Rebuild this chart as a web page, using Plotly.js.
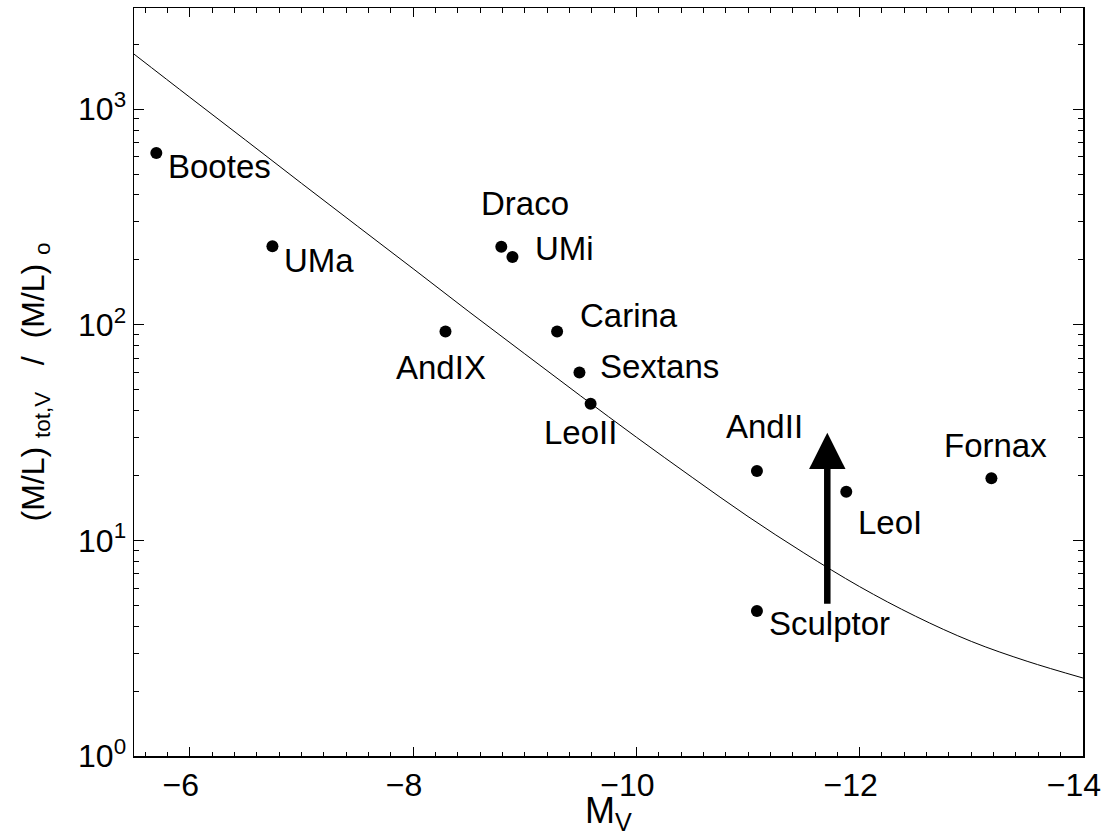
<!DOCTYPE html>
<html>
<head>
<meta charset="utf-8">
<script src="https://cdn.plot.ly/plotly-3.0.1.min.js"></script>
<style>
  html, body { margin: 0; padding: 0; background: #fff; }
  #chart { width: 1104px; height: 836px; }
</style>
</head>
<body>
<div id="chart"></div>
<script>
// Dwarf spheroidal galaxies: absolute V magnitude and total mass-to-light ratio
const galaxies = ['Bootes', 'UMa', 'Draco', 'UMi', 'AndIX', 'Carina', 'Sextans', 'LeoII', 'AndII', 'LeoI', 'Sculptor', 'Fornax'];
const absMagV  = [-5.70, -6.74, -8.79, -8.89, -8.29, -9.29, -9.49, -9.59, -11.08, -11.88, -11.08, -13.18];
const massToLight = [626, 231, 230, 206, 93, 93, 60, 43, 21, 16.8, 4.7, 19.4];

// Model curve: constant dark-matter mass plus stellar M/L
const curveMv = [-5.5, -6, -6.5, -7, -7.5, -8, -8.5, -9, -9.5, -10, -10.5, -11, -11.5, -12, -12.5, -13, -13.5, -14];
const curveML = [1800, 1135, 718, 453, 287, 182, 115, 73.3, 46.8, 30.1, 19.6, 12.9, 8.75, 6.1, 4.45, 3.4, 2.75, 2.3];

// Arrow for Sculptor
const arrowMv = -11.71;
const arrowTail = 5.0;
const arrowTip = 31.6;

// Axis ticks
const xTickVals = [-6, -8, -10, -12, -14];
const yTickVals = [1, 10, 100, 1000];
const yTickText = ['10<sup>0</sup>', '10<sup>1</sup>', '10<sup>2</sup>', '10<sup>3</sup>'];

// Label placement around each point (pixels)
const labelPlacement = {
  Bootes:   {xanchor: 'left',   dx: 10,  dy: -14},
  UMa:      {xanchor: 'left',   dx: 10,  dy: -14},
  Draco:    {xanchor: 'center', dx: 24,  dy: 43},
  UMi:      {xanchor: 'left',   dx: 21,  dy: 9},
  AndIX:    {xanchor: 'center', dx: -4,  dy: -36},
  Carina:   {xanchor: 'left',   dx: 21,  dy: 16},
  Sextans:  {xanchor: 'left',   dx: 19,  dy: 6},
  LeoII:    {xanchor: 'center', dx: -10, dy: -29},
  AndII:    {xanchor: 'center', dx: 8,   dy: 44},
  LeoI:     {xanchor: 'left',   dx: 10,  dy: -31},
  Sculptor: {xanchor: 'left',   dx: 10,  dy: -12},
  Fornax:   {xanchor: 'center', dx: 4,   dy: 33}
};

const FONT = '"Liberation Sans", Arial, Helvetica, sans-serif';

const minorY = [];
for (let e = 0; e <= 3; e++) {
  for (let m = 2; m <= 9; m++) minorY.push(m * Math.pow(10, e));
}

const traces = [
  {
    x: curveMv, y: curveML,
    type: 'scatter', mode: 'lines',
    line: {color: '#000', width: 1, shape: 'spline', smoothing: 1},
    hoverinfo: 'skip'
  },
  {
    x: absMagV, y: massToLight, text: galaxies,
    type: 'scatter', mode: 'markers',
    marker: {color: '#000', size: 12},
    hoverinfo: 'text'
  }
];

const annotations = galaxies.map((name, i) => {
  const p = labelPlacement[name];
  return {
    x: absMagV[i], y: Math.log10(massToLight[i]),
    xref: 'x', yref: 'y',
    text: name, showarrow: false,
    xanchor: p.xanchor, yanchor: 'middle',
    xshift: p.dx, yshift: p.dy,
    font: {family: FONT, size: 33, color: '#000'}
  };
});

annotations.push({
  x: arrowMv, y: Math.log10(arrowTip),
  ax: arrowMv, ay: Math.log10(arrowTail),
  xref: 'x', yref: 'y', axref: 'x', ayref: 'y',
  text: '', showarrow: true,
  arrowhead: 2, arrowsize: 1.12, arrowwidth: 6.5, arrowcolor: '#000',
  standoff: 0, startstandoff: 0
});

const layout = {
  width: 1104, height: 836,
  margin: {l: 134, r: 21, t: 8, b: 80},
  paper_bgcolor: '#fff', plot_bgcolor: '#fff',
  showlegend: false,
  font: {family: FONT, size: 32, color: '#000'},
  xaxis: {
    range: [-5.5, -14.0005],
    tickmode: 'array', tickvals: xTickVals,
    ticks: 'inside', ticklen: 9, tickwidth: 1, tickcolor: '#000',
    ticklabelshift: 9, ticklabeloverflow: 'allow',
    showline: true, linecolor: '#000', linewidth: 1.5, mirror: 'allticks',
    showgrid: false, zeroline: false,
    tickfont: {family: FONT, size: 32, color: '#000'},
    minor: {dtick: 0.2, tick0: 0, ticks: 'inside', ticklen: 4.5, tickwidth: 1, tickcolor: '#000', showgrid: false},
    title: {text: 'M<sub>V</sub>', font: {family: FONT, size: 36, color: '#000'}, standoff: 2}
  },
  yaxis: {
    type: 'log',
    range: [0, 3.469],
    tickmode: 'array', tickvals: yTickVals, ticktext: yTickText,
    ticks: 'inside', ticklen: 10, tickwidth: 1, tickcolor: '#000',
    showline: true, linecolor: '#000', linewidth: 1.5, mirror: 'allticks',
    showgrid: false, zeroline: false,
    tickfont: {family: FONT, size: 32, color: '#000'},
    minor: {tickmode: 'array', tickvals: minorY, ticks: 'inside', ticklen: 5, tickwidth: 1, tickcolor: '#000', showgrid: false},
    title: {text: '(M/L)\u00A0<sub>tot,V</sub>\u00A0\u00A0 / \u00A0(M/L)\u00A0<sub>o</sub>', font: {family: FONT, size: 32, color: '#000'}, standoff: 24}
  },
  annotations: annotations
};

Plotly.newPlot('chart', traces, layout, {staticPlot: true, displayModeBar: false});
</script>
</body>
</html>
